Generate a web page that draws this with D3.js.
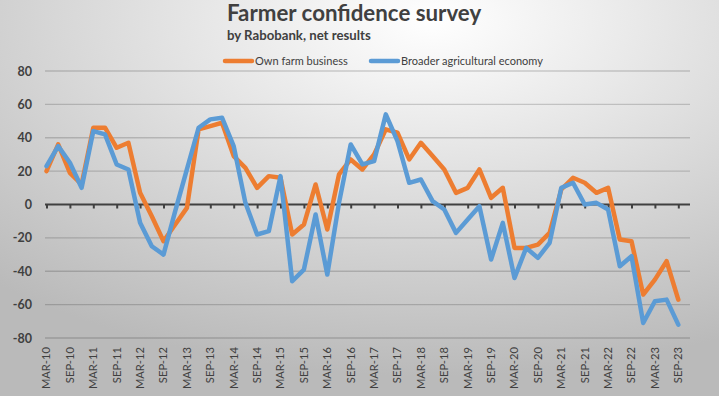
<!DOCTYPE html>
<html>
<head>
<meta charset="utf-8">
<script src="https://cdn.jsdelivr.net/npm/d3@7"></script>
<style>
  html, body { margin: 0; padding: 0; background: #fff; }
  svg { display: block; font-family: Lato, 'Open Sans', sans-serif; }
</style>
</head>
<body>
<svg id="chart"></svg>
<script>
// quarterly survey periods, MAR-10 .. DEC-23 (last slot is empty)
const months = ['MAR', 'JUN', 'SEP', 'DEC'];
const years = d3.range(10, 24);
const quarters = years.flatMap(y => months.map(m => `${m}-${y}`));

const ownFarm = [
  20, 36, 19, 12, 46, 46, 34, 37, 7, -7,
  -22, -12, -2, 45, 47, 49, 29, 22, 10, 17,
  16, -18, -12, 12, -15, 18, 27, 21, 30, 45,
  43, 27, 37, 29, 21, 7, 10, 21, 4, 10,
  -26, -26, -24, -17, 9, 16, 13, 7, 10, -21,
  -22, -54, -45, -34, -57
];
const broader = [
  23, 35, 25, 10, 44, 42, 24, 21, -11, -25,
  -30, -4, 21, 46, 51, 52, 35, 1, -18, -16,
  17, -46, -39, -6, -42, 1, 36, 24, 26, 54,
  38, 13, 15, 2, -3, -17, -9, -1, -33, -11,
  -44, -26, -32, -23, 10, 13, 0, 1, -3, -37,
  -31, -71, -58, -57, -72
];
const yTicks = [80, 60, 40, 20, 0, -20, -40, -60, -80];

const series = [
  { name: 'Own farm business', values: ownFarm, color: '#ED7D31' },
  { name: 'Broader agricultural economy', values: broader, color: '#5B9BD5' }
];

const width = 719;
const height = 396;
const marginLeft = 45;
const plotRight = 690;
const plotTop = 71;
const plotBottom = 338;

const svg = d3.select('#chart').attr('width', width).attr('height', height);

// background: radial gradient, light at the top centre
const defs = svg.append('defs');
const grad = defs.append('radialGradient')
    .attr('id', 'bg')
    .attr('cx', '0.6').attr('cy', '0.05')
    .attr('r', '0.9');
grad.append('stop').attr('offset', '0%').attr('stop-color', '#ffffff');
grad.append('stop').attr('offset', '100%').attr('stop-color', '#bababa');

svg.append('rect')
    .attr('width', width).attr('height', height)
    .attr('fill', 'url(#bg)');

const x = d3.scalePoint()
    .domain(quarters)
    .range([marginLeft + 1.5, plotRight]);

const y = d3.scaleLinear()
    .domain([-80, 80])
    .range([plotBottom, plotTop]);

// gridlines
svg.append('g')
    .selectAll('line')
    .data(yTicks.filter(d => d !== 0))
    .join('line')
    .attr('x1', marginLeft).attr('x2', plotRight)
    .attr('y1', d => y(d)).attr('y2', d => y(d))
    .attr('stroke', '#000')
    .attr('stroke-opacity', 0.17)
    .attr('stroke-width', 1.3);

// y axis labels
svg.append('g')
    .selectAll('text')
    .data(yTicks)
    .join('text')
    .attr('x', 32)
    .attr('y', d => y(d))
    .attr('dy', '0.36em')
    .attr('text-anchor', 'end')
    .attr('font-size', 12.5)
    .attr('font-weight', 700)
    .attr('fill', '#404040')
    .text(d => d);

// category axis sits on zero, labels at the bottom
const labelled = quarters.filter((q, i) => i % 2 === 0 && i < 55);
const xAxis = svg.append('g')
    .attr('transform', `translate(0,${y(0)})`)
    .call(d3.axisBottom(x).tickValues(labelled).tickSize(4).tickSizeOuter(0).tickFormat(''));
xAxis.select('.domain')
    .attr('d', `M${marginLeft},0H${plotRight}`)
    .attr('stroke', '#404040')
    .attr('stroke-width', 2.2);
xAxis.selectAll('.tick line').attr('stroke', '#404040').attr('stroke-width', 2);

svg.append('g')
    .selectAll('text')
    .data(labelled)
    .join('text')
    .attr('transform', d => `translate(${x(d)},${plotBottom + 9}) rotate(-90)`)
    .attr('dy', '0.35em')
    .attr('text-anchor', 'end')
    .attr('font-size', 11.2)
    .attr('fill', '#404040')
    .text(d => d);

// lines
const line = d3.line()
    .x((d, i) => x(quarters[i]))
    .y(d => y(d));

svg.append('g')
    .selectAll('path')
    .data(series)
    .join('path')
    .attr('d', d => line(d.values))
    .attr('fill', 'none')
    .attr('stroke', d => d.color)
    .attr('stroke-width', 4.5)
    .attr('stroke-linejoin', 'round')
    .attr('stroke-linecap', 'round');

// title
svg.append('text')
    .attr('x', 227).attr('y', 21)
    .attr('font-size', 22.3)
    .attr('font-weight', 700)
    .attr('fill', '#404040')
    .text('Farmer confidence survey');

svg.append('text')
    .attr('x', 227).attr('y', 40)
    .attr('font-size', 13.2)
    .attr('font-weight', 700)
    .attr('fill', '#404040')
    .text('by Rabobank, net results');

// legend
const legendPos = [224, 370];
const legend = svg.append('g')
    .selectAll('g')
    .data(series)
    .join('g')
    .attr('transform', (d, i) => `translate(${legendPos[i]},61)`);
legend.append('line')
    .attr('x1', 1).attr('x2', 28)
    .attr('stroke', d => d.color)
    .attr('stroke-width', 4.5)
    .attr('stroke-linecap', 'round');
legend.append('text')
    .attr('x', 31)
    .attr('dy', '0.35em')
    .attr('font-size', 11)
    .attr('fill', '#404040')
    .text(d => d.name);
</script>
</body>
</html>
